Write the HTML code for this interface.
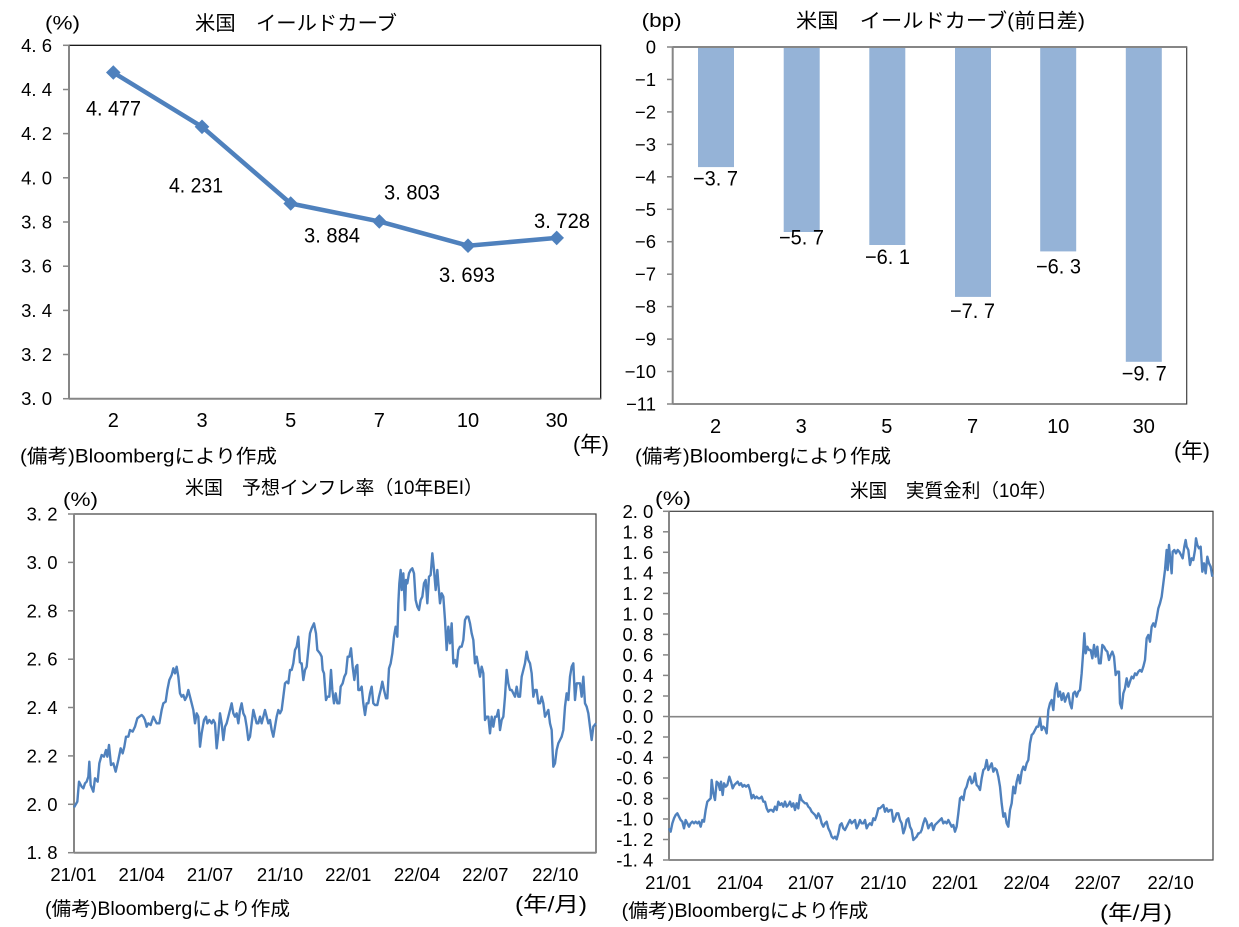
<!DOCTYPE html>
<html><head><meta charset="utf-8"><style>
html,body{margin:0;padding:0;background:#fff;}
svg{display:block;}
text{font-family:"Liberation Sans","Noto Sans CJK JP",sans-serif;fill:#000;}
.jp{font-family:"Liberation Sans","Noto Sans CJK JP",sans-serif;}
.ax{font-size:18.5px;}
.dl{font-size:21px;}
</style></head><body>
<svg width="1239" height="927" viewBox="0 0 1239 927" xmlns="http://www.w3.org/2000/svg">
<rect x="0" y="0" width="1239" height="927" fill="#fff"/>

<!-- ============ Chart 1: yield curve ============ -->
<text class="jp" x="45" y="24" font-size="19" dominant-baseline="central" textLength="35" lengthAdjust="spacingAndGlyphs">(%)</text>
<text class="jp" x="195" y="24" font-size="20" dominant-baseline="central" textLength="202" lengthAdjust="spacingAndGlyphs">米国　イールドカーブ</text>
<rect x="69" y="45.3" width="531.7" height="353.4" fill="none" stroke="#000" stroke-width="1.2"/>
<line x1="69" y1="45.3" x2="69" y2="398.7" stroke="#868686" stroke-width="2"/>
<line x1="69" y1="398.7" x2="600.7" y2="398.7" stroke="#868686" stroke-width="2"/>
<g stroke="#868686" stroke-width="1.5">
<line x1="63" y1="45.3" x2="69" y2="45.3"/><line x1="63" y1="89.5" x2="69" y2="89.5"/><line x1="63" y1="133.6" x2="69" y2="133.6"/><line x1="63" y1="177.8" x2="69" y2="177.8"/><line x1="63" y1="222" x2="69" y2="222"/><line x1="63" y1="266.2" x2="69" y2="266.2"/><line x1="63" y1="310.4" x2="69" y2="310.4"/><line x1="63" y1="354.5" x2="69" y2="354.5"/><line x1="63" y1="398.7" x2="69" y2="398.7"/>
</g>
<g class="ax" text-anchor="end" dominant-baseline="central">
<text x="52" y="45.3">4. 6</text><text x="52" y="89.5">4. 4</text><text x="52" y="133.6">4. 2</text><text x="52" y="177.8">4. 0</text><text x="52" y="222">3. 8</text><text x="52" y="266.2">3. 6</text><text x="52" y="310.4">3. 4</text><text x="52" y="354.5">3. 2</text><text x="52" y="398.7">3. 0</text>
</g>
<g font-size="20" text-anchor="middle" dominant-baseline="central">
<text x="113.3" y="421">2</text><text x="202" y="421">3</text><text x="290.7" y="421">5</text><text x="379.3" y="421">7</text><text x="468" y="421">10</text><text x="556.7" y="421">30</text>
</g>
<text class="jp" x="573" y="445" font-size="21" dominant-baseline="central" textLength="36" lengthAdjust="spacingAndGlyphs">(年)</text>
<text class="jp" x="20" y="457" font-size="19" dominant-baseline="central" textLength="257" lengthAdjust="spacingAndGlyphs">(備考)Bloombergにより作成</text>
<polyline points="113.3,72.5 202,126.8 290.7,203.5 379.3,221.4 468,245.7 556.7,237.9" fill="none" stroke="#4F81BD" stroke-width="4.5" stroke-linejoin="round"/>
<g fill="#4F81BD">
<polygon points="113.3,65.2 120.6,72.5 113.3,79.8 106,72.5"/>
<polygon points="202,119.5 209.3,126.8 202,134.1 194.7,126.8"/>
<polygon points="290.7,196.2 298,203.5 290.7,210.8 283.4,203.5"/>
<polygon points="379.3,214.1 386.6,221.4 379.3,228.7 372,221.4"/>
<polygon points="468,238.4 475.3,245.7 468,253 460.7,245.7"/>
<polygon points="556.7,230.6 564,237.9 556.7,245.2 549.4,237.9"/>
</g>
<g class="dl" dominant-baseline="central">
<text x="86" y="109" textLength="55" lengthAdjust="spacingAndGlyphs">4. 477</text>
<text x="169" y="186" textLength="54" lengthAdjust="spacingAndGlyphs">4. 231</text>
<text x="304" y="236" textLength="56" lengthAdjust="spacingAndGlyphs">3. 884</text>
<text x="384" y="193" textLength="56" lengthAdjust="spacingAndGlyphs">3. 803</text>
<text x="439" y="275.7" textLength="56" lengthAdjust="spacingAndGlyphs">3. 693</text>
<text x="534" y="221.5" textLength="56" lengthAdjust="spacingAndGlyphs">3. 728</text>
</g>

<!-- ============ Chart 2: bp change ============ -->
<text class="jp" x="641.7" y="21.7" font-size="19" dominant-baseline="central" textLength="40" lengthAdjust="spacingAndGlyphs">(bp)</text>
<text class="jp" x="796" y="21.7" font-size="20" dominant-baseline="central" textLength="289" lengthAdjust="spacingAndGlyphs">米国　イールドカーブ(前日差)</text>
<g fill="#95B3D7">
<rect x="698" y="47" width="36" height="120.1"/>
<rect x="783.7" y="47" width="36" height="185"/>
<rect x="869.3" y="47" width="36" height="198"/>
<rect x="955" y="47" width="36" height="249.9"/>
<rect x="1040.2" y="47" width="36" height="204.4"/>
<rect x="1125.8" y="47" width="36" height="314.8"/>
</g>
<rect x="672.7" y="47" width="514" height="357" fill="none" stroke="#404040" stroke-width="1.2"/>
<line x1="672.7" y1="47" x2="672.7" y2="404" stroke="#868686" stroke-width="2"/>
<line x1="672.7" y1="47" x2="1186.7" y2="47" stroke="#868686" stroke-width="2"/>
<g stroke="#868686" stroke-width="1.5">
<line x1="667" y1="47" x2="673" y2="47"/><line x1="667" y1="79.45" x2="673" y2="79.45"/><line x1="667" y1="111.9" x2="673" y2="111.9"/><line x1="667" y1="144.4" x2="673" y2="144.4"/><line x1="667" y1="176.8" x2="673" y2="176.8"/><line x1="667" y1="209.3" x2="673" y2="209.3"/><line x1="667" y1="241.7" x2="673" y2="241.7"/><line x1="667" y1="274.2" x2="673" y2="274.2"/><line x1="667" y1="306.6" x2="673" y2="306.6"/><line x1="667" y1="339.1" x2="673" y2="339.1"/><line x1="667" y1="371.5" x2="673" y2="371.5"/><line x1="667" y1="404" x2="673" y2="404"/>
</g>
<g class="ax" text-anchor="end" dominant-baseline="central">
<text x="656" y="47">0</text><text x="656" y="79.45">−1</text><text x="656" y="111.9">−2</text><text x="656" y="144.4">−3</text><text x="656" y="176.8">−4</text><text x="656" y="209.3">−5</text><text x="656" y="241.7">−6</text><text x="656" y="274.2">−7</text><text x="656" y="306.6">−8</text><text x="656" y="339.1">−9</text><text x="656" y="371.5">−10</text><text x="656" y="404">−11</text>
</g>
<g font-size="20" text-anchor="middle" dominant-baseline="central">
<text x="715.5" y="427">2</text><text x="801.2" y="427">3</text><text x="886.8" y="427">5</text><text x="972.5" y="427">7</text><text x="1058.2" y="427">10</text><text x="1143.8" y="427">30</text>
</g>
<text class="jp" x="1174" y="451.7" font-size="21" dominant-baseline="central" textLength="36" lengthAdjust="spacingAndGlyphs">(年)</text>
<text class="jp" x="635" y="457" font-size="19" dominant-baseline="central" textLength="256" lengthAdjust="spacingAndGlyphs">(備考)Bloombergにより作成</text>
<g class="dl" dominant-baseline="central">
<text x="693" y="179" textLength="45" lengthAdjust="spacingAndGlyphs">−3. 7</text>
<text x="779" y="238" textLength="45" lengthAdjust="spacingAndGlyphs">−5. 7</text>
<text x="865" y="257.7" textLength="45" lengthAdjust="spacingAndGlyphs">−6. 1</text>
<text x="950" y="311.5" textLength="45" lengthAdjust="spacingAndGlyphs">−7. 7</text>
<text x="1036" y="267" textLength="45" lengthAdjust="spacingAndGlyphs">−6. 3</text>
<text x="1121.7" y="374" textLength="45" lengthAdjust="spacingAndGlyphs">−9. 7</text>
</g>

<!-- ============ Chart 3: BEI ============ -->
<text class="jp" x="185" y="488.3" font-size="19" dominant-baseline="central" textLength="298" lengthAdjust="spacingAndGlyphs">米国　予想インフレ率（10年BEI）</text>
<text class="jp" x="63" y="500.7" font-size="19" dominant-baseline="central" textLength="35" lengthAdjust="spacingAndGlyphs">(%)</text>
<rect x="74" y="514" width="522" height="338.7" fill="none" stroke="#404040" stroke-width="1.2"/>
<line x1="74" y1="514" x2="74" y2="852.7" stroke="#868686" stroke-width="2"/>
<line x1="74" y1="852.7" x2="596" y2="852.7" stroke="#868686" stroke-width="2"/>
<g stroke="#868686" stroke-width="1.5">
<line x1="68" y1="514" x2="74" y2="514"/><line x1="68" y1="562.4" x2="74" y2="562.4"/><line x1="68" y1="610.8" x2="74" y2="610.8"/><line x1="68" y1="659.2" x2="74" y2="659.2"/><line x1="68" y1="707.5" x2="74" y2="707.5"/><line x1="68" y1="755.9" x2="74" y2="755.9"/><line x1="68" y1="804.3" x2="74" y2="804.3"/><line x1="68" y1="852.7" x2="74" y2="852.7"/>
</g>
<g class="ax" text-anchor="end" dominant-baseline="central">
<text x="57.5" y="514">3. 2</text><text x="57.5" y="562.4">3. 0</text><text x="57.5" y="610.8">2. 8</text><text x="57.5" y="659.2">2. 6</text><text x="57.5" y="707.5">2. 4</text><text x="57.5" y="755.9">2. 2</text><text x="57.5" y="804.3">2. 0</text><text x="57.5" y="852.7">1. 8</text>
</g>
<g class="ax" text-anchor="middle" dominant-baseline="central">
<text x="73.5" y="874.3">21/01</text><text x="141.7" y="874.3">21/04</text><text x="210" y="874.3">21/07</text><text x="280" y="874.3">21/10</text><text x="348.3" y="874.3">22/01</text><text x="417" y="874.3">22/04</text><text x="485.3" y="874.3">22/07</text><text x="555.3" y="874.3">22/10</text>
</g>
<text class="jp" x="45" y="909.3" font-size="19" dominant-baseline="central" textLength="245" lengthAdjust="spacingAndGlyphs">(備考)Bloombergにより作成</text>
<text class="jp" x="515" y="905" font-size="21" dominant-baseline="central" textLength="72" lengthAdjust="spacingAndGlyphs">(年/月)</text>
<g fill="none" stroke="#4F81BD" stroke-width="7.2" stroke-linejoin="round">
<polyline transform="translate(0,470) scale(0.33333)" points="222,1012 232,995 237,935 245,950 250,955 255,940 260,935 265,920 268,875 272,945 280,965 285,925 293,935 298,880 305,855 312,860 318,840 322,860 327,825 333,885 340,880 347,905 355,870 362,835 368,850 373,830 378,800 385,800 390,780 398,785 405,770 412,745 418,740 425,735 430,740 435,750 440,770 445,760 452,765 460,740 465,750 470,760 478,760 485,720 490,700 497,695 502,660 508,630 515,615 520,595 525,610 530,590 535,620 540,670 545,680 550,675 555,690 560,680 565,660 570,680 575,700 580,720 585,760 590,730 595,740 600,830 605,790 612,750 618,740 622,760 628,750 635,760 640,750 645,760 650,835 655,790 660,730 665,760 670,810 675,770 680,760 685,740 690,720 695,700 700,730 705,740 710,730 715,760 720,720 725,700 730,730 735,740 740,770 745,810 750,800 755,760 760,720 765,740 770,760 775,760 780,740 785,760 790,740 795,720 800,740 805,760 810,750 815,780 820,800 825,770 830,740 835,720 840,730 845,720 850,680 855,640 860,635 865,640 870,600 875,600 880,580 885,540 890,530 895,500 900,580"/>
<polyline transform="translate(300,470) scale(0.33333)" points="0,580 5,580 10,630 15,600 20,590 25,540 30,490 35,475 42,460 48,490 52,540 60,550 65,560 68,600 72,610 78,690 82,680 88,680 93,600 97,660 102,700 107,670 112,700 118,700 122,650 128,640 133,620 138,610 143,560 148,560 153,535 158,590 163,630 168,590 172,585 175,660 180,660 185,650 190,700 195,735 200,700 205,700 210,670 215,650 220,700 225,705 232,705 237,680 242,660 247,635 252,660 258,685 262,685 267,595 272,580 277,550 282,500 287,470 292,500 295,400 298,340 302,300 305,360 310,310 315,420 318,330 322,340 327,310 332,300 337,295 342,310 347,390 352,410 357,420 362,390 367,380 372,340 377,330 382,400 387,320 392,315 397,250 402,300 407,360 412,300 415,340 420,400 425,370 430,380 435,450 440,540 445,470 450,520 455,460 460,580 465,570 470,590 475,540 480,530 485,530 490,510 495,450 500,440 505,440 510,460 515,490 520,510 525,580 530,560 535,590 540,620 545,590 550,610 555,750 560,740 565,740 570,790 575,740 580,770 585,740 590,740 595,720 600,780 605,750 610,740 615,680 620,600 625,640 630,660 635,660 640,670 645,680 650,650 655,680 660,680 665,620 670,600 675,580 680,545 685,570 690,580 695,610 700,680 705,660 710,660 715,700 720,700 725,680 730,700 735,740 740,730 745,720 750,760 755,780 760,890 765,880 770,840 775,820 780,810 785,800 790,780 795,710 800,670 805,690 810,620 815,590 820,580 825,690 830,640 835,640 840,640 845,680 850,620 855,700 860,710 865,730 870,770 875,810 880,770 888,760"/>
</g>

<!-- ============ Chart 4: real rate ============ -->
<text class="jp" x="850" y="491.7" font-size="19" dominant-baseline="central" textLength="207" lengthAdjust="spacingAndGlyphs">米国　実質金利（10年）</text>
<text class="jp" x="655" y="499.3" font-size="19" dominant-baseline="central" textLength="36" lengthAdjust="spacingAndGlyphs">(%)</text>
<rect x="669" y="511.3" width="544" height="348.7" fill="none" stroke="#404040" stroke-width="1.2"/>
<line x1="669" y1="511.3" x2="669" y2="860" stroke="#868686" stroke-width="2"/>
<line x1="669" y1="716.7" x2="1213" y2="716.7" stroke="#868686" stroke-width="1.6"/>
<g stroke="#868686" stroke-width="1.5">
<line x1="663" y1="511.3" x2="669" y2="511.3"/><line x1="663" y1="531.8" x2="669" y2="531.8"/><line x1="663" y1="552.3" x2="669" y2="552.3"/><line x1="663" y1="572.8" x2="669" y2="572.8"/><line x1="663" y1="593.4" x2="669" y2="593.4"/><line x1="663" y1="613.9" x2="669" y2="613.9"/><line x1="663" y1="634.4" x2="669" y2="634.4"/><line x1="663" y1="654.9" x2="669" y2="654.9"/><line x1="663" y1="675.4" x2="669" y2="675.4"/><line x1="663" y1="696" x2="669" y2="696"/><line x1="663" y1="716.5" x2="669" y2="716.5"/><line x1="663" y1="737" x2="669" y2="737"/><line x1="663" y1="757.5" x2="669" y2="757.5"/><line x1="663" y1="778" x2="669" y2="778"/><line x1="663" y1="798.5" x2="669" y2="798.5"/><line x1="663" y1="819" x2="669" y2="819"/><line x1="663" y1="839.5" x2="669" y2="839.5"/><line x1="663" y1="860" x2="669" y2="860"/>
</g>
<g class="ax" text-anchor="end" dominant-baseline="central">
<text x="653.3" y="511.3">2. 0</text><text x="653.3" y="531.8">1. 8</text><text x="653.3" y="552.3">1. 6</text><text x="653.3" y="572.8">1. 4</text><text x="653.3" y="593.4">1. 2</text><text x="653.3" y="613.9">1. 0</text><text x="653.3" y="634.4">0. 8</text><text x="653.3" y="654.9">0. 6</text><text x="653.3" y="675.4">0. 4</text><text x="653.3" y="696">0. 2</text><text x="653.3" y="716.5">0. 0</text><text x="653.3" y="737">-0. 2</text><text x="653.3" y="757.5">-0. 4</text><text x="653.3" y="778">-0. 6</text><text x="653.3" y="798.5">-0. 8</text><text x="653.3" y="819">-1. 0</text><text x="653.3" y="839.5">-1. 2</text><text x="653.3" y="860">-1. 4</text>
</g>
<g class="ax" text-anchor="middle" dominant-baseline="central">
<text x="668.3" y="882.3">21/01</text><text x="740" y="882.3">21/04</text><text x="811" y="882.3">21/07</text><text x="883.3" y="882.3">21/10</text><text x="955" y="882.3">22/01</text><text x="1026.7" y="882.3">22/04</text><text x="1097.7" y="882.3">22/07</text><text x="1170.7" y="882.3">22/10</text>
</g>
<text class="jp" x="621.7" y="911.7" font-size="19" dominant-baseline="central" textLength="246.6" lengthAdjust="spacingAndGlyphs">(備考)Bloombergにより作成</text>
<text class="jp" x="1100" y="913.3" font-size="21" dominant-baseline="central" textLength="72" lengthAdjust="spacingAndGlyphs">(年/月)</text>
<g fill="none" stroke="#4F81BD" stroke-width="7.2" stroke-linejoin="round">
<polyline transform="translate(620,470) scale(0.33333)" points="147,1075 152,1085 157,1060 162,1045 167,1035 172,1030 177,1040 182,1050 187,1055 192,1075 197,1050 202,1060 207,1070 212,1060 217,1055 222,1060 227,1055 232,1060 237,1055 242,1070 247,1050 252,1055 257,1020 262,995 267,990 272,985 275,930 280,970 285,990 290,935 295,940 300,960 303,935 308,975 312,940 317,950 322,945 328,920 333,935 338,955 343,945 348,940 353,935 358,945 363,940 368,950 373,945 378,950 385,945 390,960 395,985 400,975 405,985 410,980 415,985 420,985 425,980 430,995 435,995 440,1015 445,1025 450,1020 455,1020 460,1025 465,1010 470,1020 475,995 480,1005 485,1000 490,1010 495,995 500,1010 505,1005 510,995 515,1010 520,1000 525,1020 530,1000 535,1015 540,975 545,990 550,995 555,1000 560,1000 565,1010 570,1015 575,1025 580,1030 585,1035 590,1045 595,1030 600,1040 605,1060 610,1070 615,1060 620,1055 625,1075 630,1085 635,1100 640,1105 645,1100 650,1108 655,1090 660,1065 665,1060 670,1075 675,1080 680,1070 685,1060 690,1050 695,1060 700,1055 705,1050 710,1075 715,1065 720,1050 725,1060 730,1060 735,1050 740,1075 745,1065 750,1060 755,1065 760,1045 765,1050 770,1035 775,1015 780,1015 785,1010 790,1005 795,1025 800,1015 805,1025 810,1020 815,1020 820,1055 825,1045 830,1030 835,1030 840,1050 845,1060 850,1090 855,1075 860,1050 865,1045 870,1070 875,1080 880,1110 885,1105 890,1100 895,1090 900,1090"/>
<polyline transform="translate(920,470) scale(0.33333)" points="0,1090 5,1080 10,1060 15,1045 20,1055 25,1075 30,1065 35,1060 40,1080 45,1065 50,1060 55,1055 60,1050 65,1045 70,1060 75,1055 80,1060 85,1050 90,1060 95,1070 100,1065 105,1085 110,1070 115,1030 120,985 125,980 130,990 135,960 140,950 145,930 150,920 155,940 160,935 165,910 170,945 175,950 180,960 185,925 190,900 195,895 200,870 205,900 210,890 215,880 220,905 225,895 230,900 235,920 240,950 245,1000 250,1040 255,1030 260,1060 265,1070 270,1020 275,1000 280,950 285,970 290,935 295,915 300,940 305,905 310,890 315,900 320,880 325,870 330,820 335,795 340,790 345,780 350,770 355,770 360,745 365,780 370,770 375,775 380,790 385,720 390,700 395,690 400,720 405,660 410,640 415,680 420,665 425,690 430,670 435,695 440,680 445,670 450,700 455,715 460,670 465,665 470,680 475,665 480,660 485,610 490,540 493,490 497,550 502,530 507,540 512,540 517,565 522,525 527,560 532,530 537,580 542,580 547,525 552,530 557,540 562,545 567,570 572,555 577,545 582,560 587,615 592,605 597,605 600,700 605,715 610,670 615,655 620,625 625,650 630,635 635,620 640,625 645,610 650,615 655,605 660,600 665,605 670,590 675,570 680,505 685,495 690,515 695,470 700,460 705,470 710,445 715,415 720,400 725,380 730,340 735,300 740,240 743,300 747,225 750,260 755,310 758,245 763,240 768,250 773,240 778,245 783,255 788,265 793,230 797,210 800,230 805,240 810,285 815,265 820,270 825,240 828,205 832,225 837,235 842,230 847,305 852,280 857,310 862,260 867,280 872,290 877,320"/>
</g>
</svg>
</body></html>
